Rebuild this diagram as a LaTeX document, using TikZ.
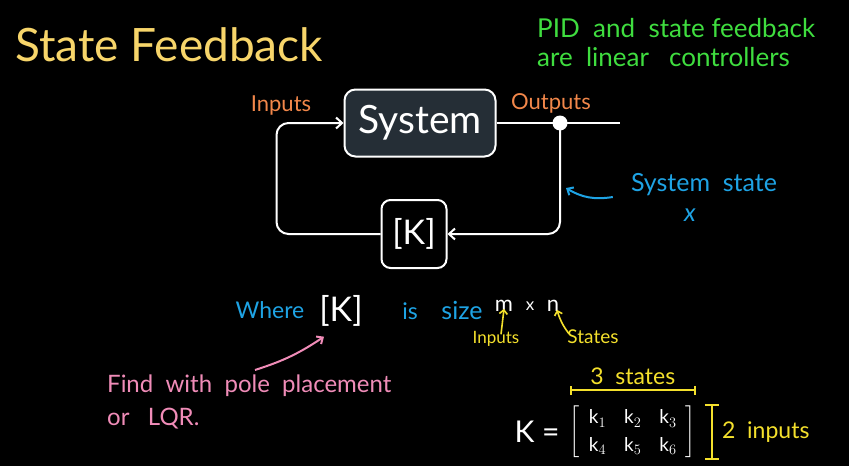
\documentclass[tikz,border=0pt]{standalone}
\usepackage{fontspec}
\usepackage{amsmath}
\setmainfont{Lato}
\usetikzlibrary{positioning, arrows.meta, calc}

\definecolor{titleyellow}{HTML}{F7D56A}
\definecolor{notegreen}{HTML}{3FDD3F}
\definecolor{labelorange}{HTML}{F2874A}
\definecolor{stateblue}{HTML}{1EA3E4}
\definecolor{markyellow}{HTML}{F4E02C}
\definecolor{notepink}{HTML}{F08CB8}
\definecolor{boxgray}{HTML}{252E36}

\tikzset{
  flow/.style={draw=white, line width=2pt, -{Straight Barb[length=6pt, width=11pt]}},
  wire/.style={draw=white, line width=2pt},
  blockbox/.style={draw=white, line width=2pt, rounded corners=11pt, text=white, inner sep=0pt},
  hand/.style={inner sep=0pt, font=\fontsize{#1}{#1}\selectfont},
  hand/.default=22
}

\begin{document}
\begin{tikzpicture}[x=1pt, y=-1pt]
        % Background
        \fill[black] (0,0) rectangle (849,466);
        \useasboundingbox (0,0) rectangle (849,466);

        % Headings
        \node[hand=46, text=titleyellow, anchor=west] (title) at (15,45) {State Feedback};
        \node[hand=26, text=notegreen, anchor=north west, align=left, font=\fontsize{26}{29}\selectfont] (note) at (537,18) {PID\ \ and\ \ state\ feedback\\are\ \ linear\ \ \ controllers};

        % Loop blocks
        \node[blockbox, fill=boxgray, minimum width=151pt, minimum height=67pt, font=\fontsize{39}{39}\selectfont] (sys) at (420,123) {System};
        \node[blockbox, fill=black, rounded corners=9pt, minimum width=65pt, minimum height=68pt, font=\fontsize{34}{34}\selectfont] (kbox) at (414,234) {[K]};
        \fill[white] (560,123) circle (7.5pt);
        \coordinate (dot) at (560,123);
        \coordinate (outend) at (620,123);
        \node[hand=22, text=labelorange] (inlbl) at (281,106) {Inputs};
        \node[hand=22, text=labelorange] (outlbl) at (551,103) {Outputs};

        % Connections
        \draw[wire] (sys.east) -- (dot) -- (outend);
        \draw[flow, rounded corners=12pt] (dot) |- (kbox.east);
        \draw[flow, rounded corners=12pt] (kbox.west) -| ($(sys.west)+(-67,0)$) -- (sys.west);

        % State label
        \node[hand=25, text=stateblue] (statelbl) at (704,185) {System\ \ state};
        \node[hand=25, text=stateblue] (statex) at (690,215) {\textit{x}};
        \coordinate (statetip) at (566,188);
        \draw[stateblue, line width=2pt, -{Straight Barb[length=5pt, width=9pt]}] ([xshift=-18pt, yshift=-12pt]statelbl.west) to[bend left=20] (statetip);

        % Size of K
        \node[hand=23, text=stateblue] (where) at (270,310) {Where};
        \node[hand=34, text=white] (ksym) at (341,311) {[K]};
        \node[hand=23, text=stateblue] (is) at (410,311) {is};
        \node[hand=25, text=stateblue] (size) at (462,310) {size};
        \node[hand=22, text=white] (mdim) at (504,306) {m};
        \node[hand=17, text=white] (times) at (530,306) {x};
        \node[hand=22, text=white] (ndim) at (553,306) {n};
        \node[hand=17, text=markyellow] (inpnote) at (496,339) {Inputs};
        \node[hand=19, text=markyellow] (statenote) at (593,337) {States};
        \draw[markyellow, line width=1.6pt, -{Straight Barb[length=4pt, width=8pt]}] ([xshift=5pt, yshift=-3pt]inpnote.north) -- ([yshift=3pt]mdim.south);
        \draw[markyellow, line width=1.6pt, -{Straight Barb[length=4pt, width=8pt]}] ([xshift=-24pt, yshift=-4pt]statenote.north) to[bend left=10] ([xshift=4pt, yshift=2pt]ndim.south);

        % Pole placement note
        \node[hand=24, text=notepink, anchor=north west, align=left, font=\fontsize{24}{33}\selectfont] (polenote) at (107,375) {Find\ \ with\ \ pole\ \ placement\\or\ \ \ LQR.};
        \draw[notepink, line width=2pt, -{Straight Barb[length=5pt, width=9pt]}] (255,370) to[bend right=8] ([xshift=-17pt, yshift=-10pt]ksym.south);

        % Gain matrix
        \node[hand=30, text=white] (keq) at (537,432) {K\ =};
        \node[hand=19, text=white, right=10pt of keq] (kmat) {$\renewcommand\arraystretch{1.45}\setlength\arraycolsep{9pt}\left[\begin{array}{ccc}\mbox{k}_1 & \mbox{k}_2 & \mbox{k}_3\\ \mbox{k}_4 & \mbox{k}_5 & \mbox{k}_6\end{array}\right]$};
        \coordinate (topleft) at ([yshift=14pt]kmat.north west);
        \coordinate (topright) at ([yshift=14pt]kmat.north east);
        \coordinate (sidetop) at ([xshift=16pt]kmat.north east);
        \coordinate (sidebot) at ([xshift=16pt]kmat.south east);
        \draw[markyellow, line width=2pt, {Bar[width=9pt]}-{Bar[width=9pt]}] (topleft) -- (topright);
        \draw[markyellow, line width=2pt, {Bar[width=14pt]}-{Bar[width=14pt]}] (sidetop) -- (sidebot);
        \node[hand=23, text=markyellow, above=5pt of $(topleft)!0.5!(topright)$] (statecount) {3\ \ states};
        \node[hand=23, text=markyellow, right=10pt of $(sidetop)!0.5!(sidebot)$] (inputcount) {2\ \ inputs};
\end{tikzpicture}
\end{document}
